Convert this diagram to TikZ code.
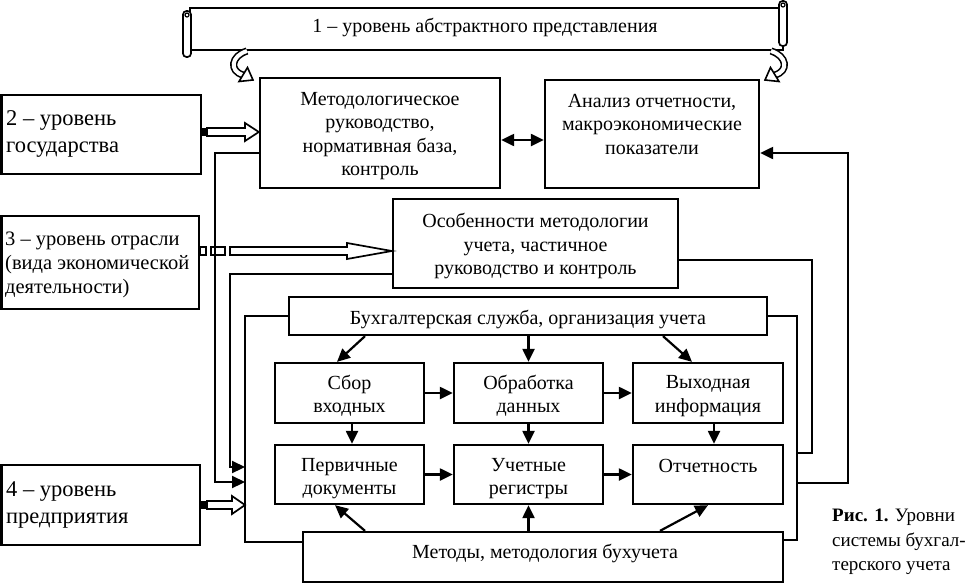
\documentclass[tikz,border=0pt]{standalone}
\usepackage{fontspec}
\setmainfont{Liberation Serif}
\usetikzlibrary{arrows.meta,calc}
\begin{document}
\begin{tikzpicture}[x=1pt,y=-1pt,
  box/.style={draw, line width=2.3pt, inner sep=0pt},
  txt/.style={align=center, font=\fontsize{20}{23.5}\selectfont, inner sep=0pt},
  ltxt/.style={align=left, font=\fontsize{22.5}{27}\selectfont, inner sep=0pt, anchor=west},
  ln/.style={line width=2.2pt},
  arr/.style={line width=2.2pt, -{Triangle[length=13pt,width=12pt]}},
  darr/.style={line width=2.2pt, {Triangle[length=13pt,width=12pt]}-{Triangle[length=13pt,width=12pt]}},
  harrow/.style={draw, line width=1.7pt, fill=white},
  roll/.style={draw, line width=1.7pt, fill=white}]
\useasboundingbox (0,0) rectangle (971,584);

% banner (scroll)
\draw[roll] (190,8) -- (783,8) -- (783,50) -- (190,50) -- cycle;
\draw[roll, rounded corners=3.5pt] (183,11) rectangle (191,57);
\draw[line width=1.2pt] (187,15) circle (2);
\draw[roll, rounded corners=3.5pt] (779,1) rectangle (787,46);
\draw[line width=1.2pt] (783,5) circle (2);
\node[txt] (t1) at (485,27) {1 – уровень абстрактного представления};

% curved arrows under the banner
\draw[line width=1.6pt, double=white, double distance=4pt] (247,51) .. controls (231,56) and (229,71) .. (243,75);
\draw[line width=1.6pt, fill=white] (239,81.5) -- (253,80) -- (247.5,67.5) -- cycle;
\draw[line width=1.6pt, double=white, double distance=4pt] (771,51) .. controls (787,56) and (789,71) .. (775,75);
\draw[line width=1.6pt, fill=white] (779,81.5) -- (765,80) -- (770.5,67.5) -- cycle;

% boxes
\node[box, minimum width=240, minimum height=110] (m) at (380,133) {};
\node[txt] (mt) at (380,136) {Методологическое\\руководство,\\нормативная база,\\контроль};
\node[box, minimum width=214, minimum height=108] (a) at (652,134) {};
\node[txt] (at) at (652,124) {Анализ отчетности,\\макроэкономические\\показатели};
\node[box, minimum width=285, minimum height=89] (o) at (535.5,243.5) {};
\node[txt] (ot) at (535.5,246) {Особенности методологии\\учета, частичное\\руководство и контроль};
\node[box, minimum width=478, minimum height=38] (b) at (528,316) {};
\node[txt] (bt) at (528,319) {Бухгалтерская служба, организация учета};
\node[box, minimum width=149, minimum height=60] (s1) at (349.5,393) {};
\node[txt] (s1t) at (349.5,396) {Сбор\\входных};
\node[box, minimum width=149, minimum height=60] (s2) at (528.5,393) {};
\node[txt] (s2t) at (528.5,396) {Обработка\\данных};
\node[box, minimum width=150, minimum height=60] (s3) at (708,393) {};
\node[txt] (s3t) at (708,396) {Выходная\\информация};
\node[box, minimum width=149, minimum height=59] (p1) at (349.5,474.5) {};
\node[txt] (p1t) at (349.5,478.5) {Первичные\\документы};
\node[box, minimum width=149, minimum height=59] (p2) at (528.5,474.5) {};
\node[txt] (p2t) at (528.5,478.5) {Учетные\\регистры};
\node[box, minimum width=150, minimum height=59] (p3) at (708,474.5) {};
\node[txt] (p3t) at (708,466) {Отчетность};
\node[box, minimum width=480, minimum height=50] (mm) at (543,557) {};
\node[txt] (mmt) at (545,553) {Методы, методология бухучета};

\node[box, minimum width=199.5, minimum height=79] (l2) at (101.25,134.5) {};
\node[ltxt] (l2t) at (6,134) {2 – уровень\\государства};
\node[box, minimum width=197.5, minimum height=93] (l3) at (100.25,262.5) {};
\node[ltxt, font=\fontsize{20.5}{24}\selectfont] (l3t) at (5,265) {3 – уровень отрасли\\(вида экономической\\деятельности)};
\node[box, minimum width=198.5, minimum height=80] (l4) at (100.75,505) {};
\node[ltxt] (l4t) at (6,505) {4 – уровень\\предприятия};

% caption
\node[anchor=north west, align=left, inner sep=0pt, font=\fontsize{19}{24.5}\selectfont] (cap) at (832,509)
  {\textbf{Рис. 1.} Уровни\\системы бухгал-\\терского учета};

% hollow (striped) arrows
\fill (l2.east |- 0,128) rectangle (207,136);
\draw[harrow] (207,128) -- (245,128) -- (245,123) -- (m.west |- 0,132) -- (245,141) -- (245,136) -- (207,136) -- cycle;
\fill (l4.east |- 0,501) rectangle (207,509);
\draw[harrow] (207,501) -- (232,501) -- (232,496) -- (245,505) -- (232,514) -- (232,509) -- (207,509) -- cycle;
\draw[harrow] (l3.east |- 0,247) rectangle (206,255);
\draw[harrow] (211,247) rectangle (225,255);
\draw[harrow] (230,247) -- (347,247) -- (347,243) -- (o.west |- 0,251) -- (347,259) -- (347,255) -- (230,255) -- cycle;

% connectors
\draw[darr] (m.east |- 0,140) -- (a.west |- 0,140);
\draw[arr] (m.west |- 0,153) -| (215,482) -- (245,482);
\draw[arr] (o.west |- 0,274) -| (230,467) -- (245,467);
\draw[ln] (b.west) -| (245,542) -- (mm.west |- 0,542);
\draw[ln] (o.east |- 0,260) -| (812,453) -- (797,453);
\draw[ln] (b.east) -| (797,540) -- (mm.east |- 0,540);
\draw[arr] (797,483) -| (848,153) -- (a.east |- 0,153);

\draw[arr] (b.south -| 365,0) -- (s1.north -| 337,0);
\draw[arr] (b.south -| s2.north) -- (s2.north);
\draw[arr] (b.south -| 663,0) -- (s3.north -| 692,0);
\draw[arr] (s1.east) -- (s2.west);
\draw[arr] (s2.east) -- (s3.west);
\draw[arr] (s1.south -| 352,0) -- (p1.north -| 352,0);
\draw[arr] (s2.south) -- (p2.north);
\draw[arr] (s3.south -| 714,0) -- (p3.north -| 714,0);
\draw[arr] (p1.east) -- (p2.west);
\draw[arr] (p2.east) -- (p3.west);
\draw[arr] (mm.north -| 365,0) -- (p1.south -| 335,0);
\draw[arr] (mm.north -| p2.south) -- (p2.south);
\draw[arr] (mm.north -| 660,0) -- (p3.south -| 708,0);
\end{tikzpicture}
\end{document}
